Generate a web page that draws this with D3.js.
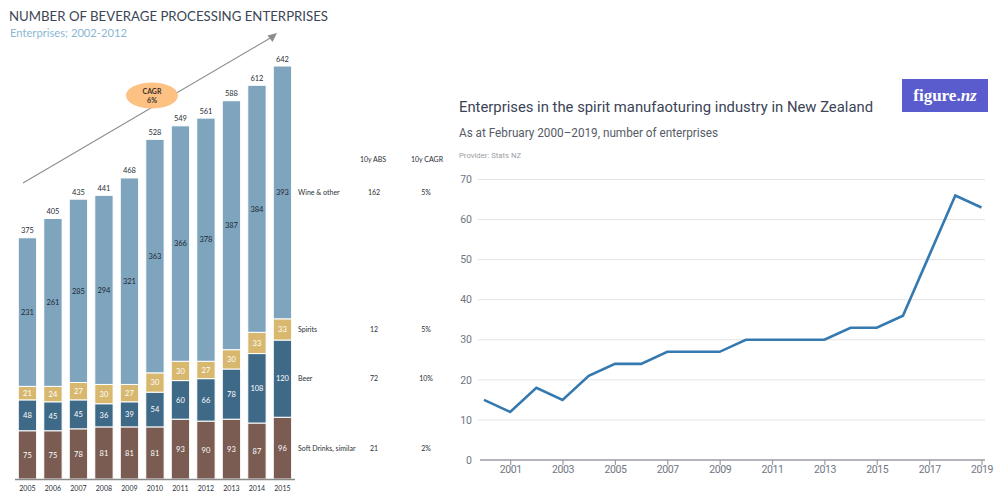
<!DOCTYPE html>
<html>
<head>
<meta charset="utf-8">
<script src="https://cdn.jsdelivr.net/npm/d3@7"></script>
<style>
  html, body { margin: 0; padding: 0; background: #fff; }
  svg { display: block; }
</style>
</head>
<body>
<svg id="chart" width="996" height="492"></svg>
<script>
// ---- Beverage processing enterprises (stacked bars) ----
const barYears = ["2005","2006","2007","2008","2009","2010","2011","2012","2013","2014","2015"];
const softDrinks = [75, 75, 78, 81, 81, 81, 93, 90, 93, 87, 96];
const beer       = [48, 45, 45, 36, 39, 54, 60, 66, 78, 108, 120];
const spirits    = [21, 24, 27, 30, 27, 30, 30, 27, 30, 33, 33];
const wineOther  = [231, 261, 285, 294, 321, 363, 366, 378, 387, 384, 393];

const segmentKeys   = ["soft", "beer", "spirits", "wine"];
const segmentNames  = ["Soft Drinks, similar", "Beer", "Spirits", "Wine & other"];
const abs10y        = ["21", "72", "12", "162"];
const cagr10y       = ["2%", "10%", "5%", "5%"];

// ---- Spirit manufacturing enterprises (line) ----
const lineYears = [2000,2001,2002,2003,2004,2005,2006,2007,2008,2009,2010,2011,2012,2013,2014,2015,2016,2017,2018,2019];
const spiritEnterprises = [15,12,18,15,21,24,24,27,27,27,30,30,30,30,33,33,36,51,66,63];
const yTicks = [0,10,20,30,40,50,60,70];
const xTicks = [2001,2003,2005,2007,2009,2011,2013,2015,2017,2019];

const svg = d3.select("#chart");

// ================= Left panel =================
const left = svg.append("g");
const segColors = { soft: "#7b5c52", beer: "#3e6a88", spirits: "#d8b86f", wine: "#7fa5be" };
const segText   = { soft: "#ffffff", beer: "#ffffff", spirits: "#ffffff", wine: "#1d2833" };

const rows = barYears.map((y, i) => ({
  year: y, soft: softDrinks[i], beer: beer[i], spirits: spirits[i], wine: wineOther[i]
}));
const stack = d3.stack().keys(segmentKeys)(rows);

const xB = d3.scaleBand().domain(barYears).range([14.7, 295.2])
  .paddingInner(0.28).paddingOuter(0.14);
const yB = d3.scaleLinear().domain([0, 700]).range([479, 28.7]);

const lfont = "Lato, 'Noto Sans', sans-serif";

left.append("text").attr("x", 9).attr("y", 21)
  .attr("font-family", lfont).attr("font-size", 13.5).attr("fill", "#3b4654")
  .attr("textLength", 319).attr("lengthAdjust", "spacingAndGlyphs")
  .text("NUMBER OF BEVERAGE PROCESSING ENTERPRISES");
left.append("text").attr("x", 10).attr("y", 37)
  .attr("font-family", lfont).attr("font-size", 12).attr("fill", "#8ab7d3")
  .attr("textLength", 117).attr("lengthAdjust", "spacingAndGlyphs")
  .text("Enterprises; 2002-2012");

// growth arrow and CAGR badge
left.append("line").attr("x1", 23).attr("y1", 183).attr("x2", 272).attr("y2", 37)
  .attr("stroke", "#8d8d8d").attr("stroke-width", 1.1);
left.append("path").attr("d", "M277,33 L267.5,35.5 L272.5,42 Z").attr("fill", "#8d8d8d");
left.append("ellipse").attr("cx", 152).attr("cy", 95.5).attr("rx", 26).attr("ry", 13)
  .attr("fill", "#fdc183");
left.append("text").attr("x", 152).attr("y", 93.5).attr("text-anchor", "middle")
  .attr("font-family", lfont).attr("font-size", 7).attr("font-weight", 700).attr("fill", "#3b302b")
  .text("CAGR");
left.append("text").attr("x", 152).attr("y", 102.5).attr("text-anchor", "middle")
  .attr("font-family", lfont).attr("font-size", 7).attr("font-weight", 700).attr("fill", "#3b302b")
  .text("6%");

const layers = left.append("g").selectAll("g").data(stack).join("g")
  .attr("fill", d => segColors[d.key]);
layers.selectAll("rect").data(d => d).join("rect")
  .attr("x", d => xB(d.data.year))
  .attr("width", xB.bandwidth())
  .attr("y", d => yB(d[1]))
  .attr("height", d => yB(d[0]) - yB(d[1]))
  .attr("stroke", "#ffffff").attr("stroke-width", 1);

// segment value labels
stack.forEach(layer => {
  left.append("g").selectAll("text").data(layer).join("text")
    .attr("x", d => xB(d.data.year) + xB.bandwidth() / 2)
    .attr("y", d => (yB(d[0]) + yB(d[1])) / 2 + 2.7)
    .attr("text-anchor", "middle")
    .attr("font-family", lfont).attr("font-size", 7.5)
    .attr("fill", segText[layer.key])
    .text(d => d[1] - d[0]);
});

// bar totals
const topLayer = stack[stack.length - 1];
left.append("g").selectAll("text").data(topLayer).join("text")
  .attr("x", d => xB(d.data.year) + xB.bandwidth() / 2)
  .attr("y", d => yB(d[1]) - 4.5)
  .attr("text-anchor", "middle")
  .attr("font-family", lfont).attr("font-size", 7.5).attr("fill", "#2a2f36")
  .text(d => d[1]);

// baseline and years
left.append("line").attr("x1", 15).attr("x2", 295).attr("y1", 479.5).attr("y2", 479.5)
  .attr("stroke", "#8a8a8a").attr("stroke-width", 1.3);
left.append("g").selectAll("text").data(barYears).join("text")
  .attr("x", d => xB(d) + xB.bandwidth() / 2)
  .attr("y", 490.5)
  .attr("text-anchor", "middle")
  .attr("font-family", lfont).attr("font-size", 7).attr("fill", "#2a2f36")
  .text(d => d);

// side table aligned with the latest bar's segments
const lastCol = stack.map(layer => layer[layer.length - 1]);
left.append("text").attr("x", 373).attr("y", 161.5).attr("text-anchor", "middle")
  .attr("font-family", lfont).attr("font-size", 7).attr("fill", "#2a2f36").text("10y ABS");
left.append("text").attr("x", 427).attr("y", 161.5).attr("text-anchor", "middle")
  .attr("font-family", lfont).attr("font-size", 7).attr("fill", "#2a2f36").text("10y CAGR");
lastCol.forEach((d, i) => {
  const cy = (yB(d[0]) + yB(d[1])) / 2 + 2.5;
  left.append("text").attr("x", 298).attr("y", cy)
    .attr("font-family", lfont).attr("font-size", 7).attr("fill", "#2a2f36").text(segmentNames[i]);
  left.append("text").attr("x", 374).attr("y", cy).attr("text-anchor", "middle")
    .attr("font-family", lfont).attr("font-size", 7).attr("fill", "#2a2f36").text(abs10y[i]);
  left.append("text").attr("x", 426).attr("y", cy).attr("text-anchor", "middle")
    .attr("font-family", lfont).attr("font-size", 7).attr("fill", "#2a2f36").text(cagr10y[i]);
});

// ================= Right panel =================
const right = svg.append("g");
const rfont = "Roboto, 'Liberation Sans', sans-serif";

const xL = d3.scaleLinear().domain([2000, 2019]).range([484, 981.5]);
const yL = d3.scaleLinear().domain([0, 70]).range([460, 179.5]);

// logo
right.append("rect").attr("x", 902).attr("y", 79).attr("width", 86).attr("height", 33)
  .attr("fill", "#5a5ccd");
const logo = right.append("text").attr("x", 945).attr("y", 100.5).attr("text-anchor", "middle")
  .attr("font-family", "'Liberation Serif', 'DejaVu Serif', serif").attr("font-size", 17)
  .attr("font-weight", 700).attr("fill", "#ffffff");
logo.append("tspan").text("figure.");
logo.append("tspan").attr("font-style", "italic").text("nz");

right.append("text").attr("x", 459).attr("y", 112)
  .attr("font-family", rfont).attr("font-size", 14.5).attr("fill", "#3b4356")
  .attr("textLength", 414).attr("lengthAdjust", "spacingAndGlyphs")
  .text("Enterprises in the spirit manufaoturing industry in New Zealand");
right.append("text").attr("x", 459).attr("y", 136.5)
  .attr("font-family", rfont).attr("font-size", 12.5).attr("fill", "#555b66")
  .attr("textLength", 259).attr("lengthAdjust", "spacingAndGlyphs")
  .text("As at February 2000\u20132019, number of enterprises");
right.append("text").attr("x", 459).attr("y", 158)
  .attr("font-family", rfont).attr("font-size", 8).attr("fill", "#9b9ea5")
  .attr("textLength", 62).attr("lengthAdjust", "spacingAndGlyphs")
  .text("Provider: Stats NZ");

// horizontal grid
right.append("g").selectAll("line").data(yTicks.filter(t => t > 0)).join("line")
  .attr("x1", 478).attr("x2", 985)
  .attr("y1", d => yL(d)).attr("y2", d => yL(d))
  .attr("stroke", "#e4e4e6").attr("stroke-width", 1);

// y labels
right.append("g").selectAll("text").data(yTicks).join("text")
  .attr("x", 472).attr("y", d => yL(d) + 3.7)
  .attr("text-anchor", "end")
  .attr("font-family", rfont).attr("font-size", 10.5).attr("fill", "#707583")
  .text(d => d);

// x axis
const xAxis = right.append("g").attr("transform", "translate(0,460)")
  .call(d3.axisBottom(xL).tickValues(xTicks).tickSize(5).tickFormat(d3.format("d")));
xAxis.select(".domain").remove();
xAxis.selectAll(".tick line").attr("stroke", "#9a9ca3").attr("stroke-width", 1.2);
xAxis.selectAll(".tick text").attr("font-family", rfont).attr("font-size", 10.5)
  .attr("fill", "#707583").attr("dy", "0.5em").attr("y", 8)
  .attr("letter-spacing", "-0.4");
right.append("line").attr("x1", 480).attr("x2", 985).attr("y1", 460).attr("y2", 460)
  .attr("stroke", "#9a9ca3").attr("stroke-width", 1.5);

// series line
right.append("path").datum(lineYears.map((y, i) => [y, spiritEnterprises[i]]))
  .attr("d", d3.line().x(d => xL(d[0])).y(d => yL(d[1])))
  .attr("fill", "none").attr("stroke", "#3479b0").attr("stroke-width", 2.6)
  .attr("stroke-linejoin", "miter").attr("stroke-linecap", "butt");
</script>
</body>
</html>
